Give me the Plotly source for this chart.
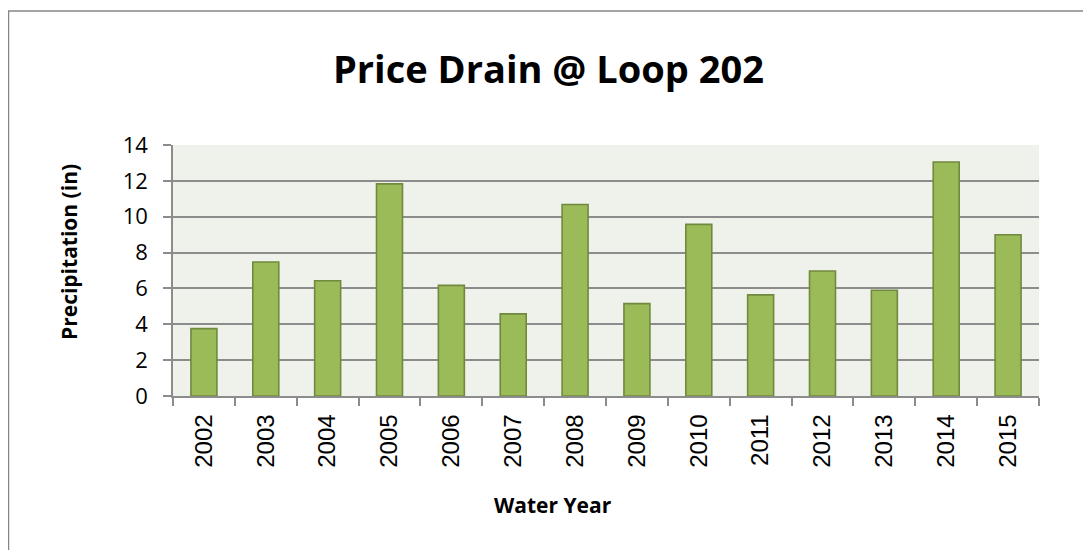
import plotly.graph_objects as go

years = ["2002", "2003", "2004", "2005", "2006", "2007", "2008",
         "2009", "2010", "2011", "2012", "2013", "2014", "2015"]
precip = [3.76, 7.47, 6.43, 11.83, 6.17, 4.58, 10.68,
          5.15, 9.57, 5.64, 6.97, 5.90, 13.05, 8.99]
y_ticks = [0, 2, 4, 6, 8, 10, 12, 14]

# page has an 8px body margin; figure origin is at page (8, 8)
OFF = 8
W, H = 1091 - OFF, 550 - OFF
L, T = 173 - OFF, 145 - OFF
pw, ph = 866, 251
R, B = W - L - pw, H - T - ph

def px_x(x):  # page pixel -> paper
    return (x - OFF - L) / pw

def px_y(y):
    return (T + ph - (y - OFF)) / ph

fig = go.Figure()
fig.add_trace(go.Bar(
    x=years, y=precip,
    marker=dict(color="#9BBB59", line=dict(color="#71893F", width=1.6)),
))

grid = "#8C8C8C"
fig.update_layout(
    width=W, height=H,
    margin=dict(l=L, r=R, t=T, b=B),
    paper_bgcolor="white",
    plot_bgcolor="#EFF2EA",
    bargap=0.58,
    showlegend=False,
    xaxis=dict(
        type="category", tickson="boundaries", ticks="outside", ticklen=8,
        tickcolor=grid, tickwidth=1.5, showline=True, linecolor=grid, linewidth=1.5,
        tickangle=-90, tickfont=dict(family="Liberation Sans", size=24, color="black"),
        showgrid=False, ticklabelstandoff=7,
    ),
    yaxis=dict(
        range=[0, 14], tickvals=y_ticks, ticks="outside", ticklen=8,
        tickcolor=grid, tickwidth=1.5, showline=True, linecolor=grid, linewidth=1.5,
        showgrid=True, gridcolor=grid, gridwidth=1.5, zeroline=False,
        tickfont=dict(family="Open Sans", size=22, color="black"), ticklabelstandoff=11,
    ),
    annotations=[
        dict(text="<b>Price Drain @ Loop 202</b>", xref="paper", yref="paper",
             x=px_x(548), y=px_y(68), showarrow=False,
             font=dict(family="Open Sans", size=38, color="black"),
             xanchor="center", yanchor="middle"),
        dict(text="<b>Water Year</b>", xref="paper", yref="paper",
             x=px_x(553), y=px_y(505), showarrow=False,
             font=dict(family="Open Sans", size=21, color="black"),
             xanchor="center", yanchor="middle"),
        dict(text="<b>Precipitation (in)</b>", xref="paper", yref="paper",
             x=px_x(69), y=px_y(252), showarrow=False, textangle=-90,
             font=dict(family="Open Sans", size=21, color="black"),
             xanchor="center", yanchor="middle"),
    ],
    shapes=[
        dict(type="rect", xref="paper", yref="paper",
             x0=px_x(8.5), y0=px_y(620), x1=px_x(1150), y1=px_y(11),
             line=dict(color="#868686", width=1.5), layer="below"),
    ],
)

fig.write_html("out.html")
